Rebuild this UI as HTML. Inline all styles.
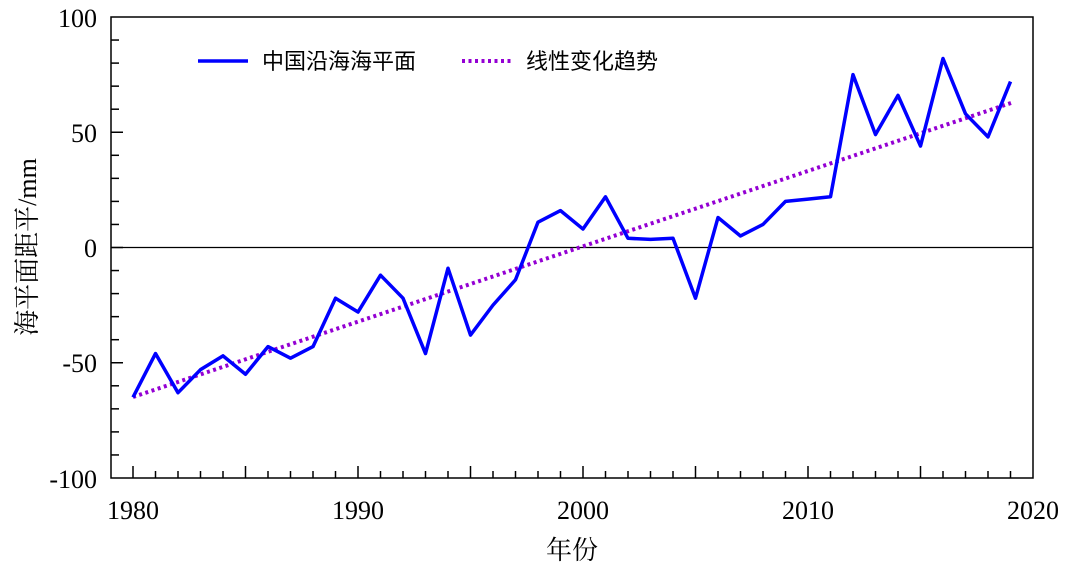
<!DOCTYPE html>
<html><head><meta charset="utf-8"><style>body{margin:0;background:#fff}svg{display:block}</style></head><body>
<svg id="s" width="1080" height="565" xmlns="http://www.w3.org/2000/svg" font-family="'Liberation Serif','Noto Serif CJK SC',serif">
<g id="ticks" stroke="#000" stroke-width="1.5"></g>
<rect x="111" y="17" width="922" height="461" fill="none" stroke="#000" stroke-width="1.5"/>
<line x1="111" y1="247.5" x2="1033" y2="247.5" stroke="#000" stroke-width="1.2"/>
<line x1="133" y1="397" x2="1011" y2="103" stroke="#9400d3" stroke-width="4" stroke-dasharray="3,3.5"/>
<polyline id="ln" fill="none" stroke="#0000ff" stroke-width="3.5" stroke-linejoin="round"/>
<g font-size="26" text-anchor="end">
<text x="97" y="27">100</text><text x="97" y="142">50</text><text x="97" y="257">0</text><text x="97" y="372">-50</text><text x="97" y="488">-100</text>
</g>
<g font-size="26" text-anchor="middle">
<text x="133" y="519">1980</text><text x="358" y="519">1990</text><text x="583" y="519">2000</text><text x="808" y="519">2010</text><text x="1033" y="519">2020</text>
<text x="572" y="559">年份</text>
</g>
<text transform="translate(36,247) rotate(-90)" font-size="26" text-anchor="middle">海平面距平/mm</text>
<line x1="198" y1="61" x2="248" y2="61" stroke="#0000ff" stroke-width="3.5"/>
<text x="262" y="69" font-size="22" font-family="'Noto Sans CJK SC',sans-serif">中国沿海海平面</text>
<line x1="462" y1="61" x2="512" y2="61" stroke="#9400d3" stroke-width="4" stroke-dasharray="3,3.5"/>
<text x="526" y="69" font-size="22" font-family="'Noto Sans CJK SC',sans-serif">线性变化趋势</text>
</svg>
<script>
var d=[-65,-46,-63,-53,-47,-55,-43,-48,-43,-22,-28,-12,-22,-46,-9,-38,-25,-14,11,16,8,22,4,3.5,4,-22,13,5,10,20,21,22,75,49,66,44,82,58,48,72];
var p=d.map(function(v,i){return (133+22.5*i)+','+(247.5-2.305*v)}).join(' ');
document.getElementById('ln').setAttribute('points',p);
var g=document.getElementById('ticks'),h='';
for(var y=1980;y<=2019;y++){var x=133+22.5*(y-1980);var L=(y%5==0)?12:7;h+='<line x1="'+x+'" y1="478" x2="'+x+'" y2="'+(478-L)+'"/>';}
for(var v=-90;v<100;v+=10){var yy=247.5-2.305*v;var L=(v%50==0)?12:8;h+='<line x1="111" y1="'+yy+'" x2="'+(111+L)+'" y2="'+yy+'"/>';}
g.innerHTML=h;
</script>
</body></html>
